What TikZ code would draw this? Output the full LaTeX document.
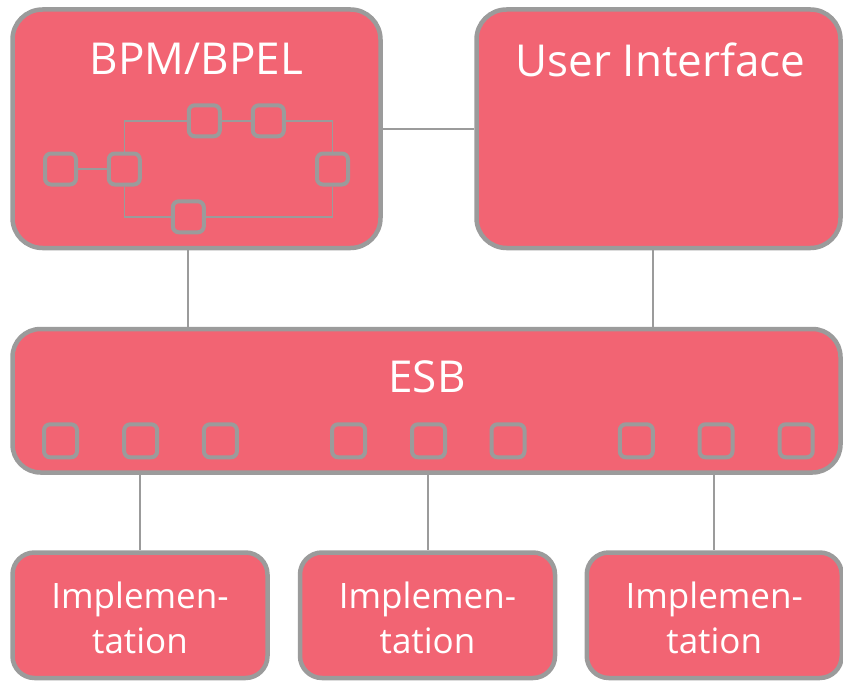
\documentclass[tikz,border=0pt]{standalone}
\usepackage{fontspec}
\setmainfont{Open Sans}
\definecolor{boxfill}{RGB}{242,100,115}
\definecolor{boxline}{RGB}{155,155,155}
\tikzset{
  bigbox/.style={draw=boxline, fill=boxfill, line width=4.5pt, rounded corners=30pt, inner sep=0pt},
  midbox/.style={draw=boxline, fill=boxfill, line width=4.5pt, rounded corners=22pt, inner sep=0pt, minimum width=255pt, minimum height=125.5pt},
  sq/.style={draw=boxline, fill=boxfill, line width=4pt, rounded corners=6pt, inner sep=0pt, minimum size=31pt},
  esq/.style={sq, minimum size=33pt},
  link/.style={draw=boxline, line width=2pt},
  flow/.style={draw=boxline, line width=1.6pt},
  title/.style={text=white, font=\fontsize{44}{50}\selectfont, anchor=base, inner sep=0pt},
  impl/.style={text=white, font=\fontsize{35}{45}\selectfont, anchor=base, inner sep=0pt},
}
\begin{document}
\begin{tikzpicture}[x=1pt,y=-1pt]
\useasboundingbox (0,0) rectangle (843,682);
% main boxes
\node[bigbox, minimum width=368pt, minimum height=238.5pt] (bpm) at (196.5,128.75) {};
\node[bigbox, minimum width=364pt, minimum height=238.5pt] (ui) at (658.5,128.75) {};
\node[bigbox, rounded corners=28pt, minimum width=828pt, minimum height=143.5pt] (esb) at (426.5,400.75) {};
\node[midbox] (im1) at (140,615.25) {};
\node[midbox] (im2) at (427.5,615.25) {};
\node[midbox] (im3) at (714.25,615.25) {};
% titles
\node[title] (bpmt) at (196.5,75) {BPM/BPEL};
\node[title] (uit) at (660.5,77) {User Interface};
\node[title] (esbt) at (427,392.7) {ESB};
\foreach \i/\x in {1/140,2/427.5,3/714.25}{
  \node[impl] (im\i a) at (\x,608.3) {Implemen-};
  \node[impl] (im\i b) at (\x,653.3) {tation};
}
% connectors between boxes
\draw[link] (bpm) -- (ui);
\draw[link] ([xshift=-8.2pt]bpm.south) -- ([xshift=-8.2pt]bpm.south |- esb.north);
\draw[link] ([xshift=-5.8pt]ui.south) -- ([xshift=-5.8pt]ui.south |- esb.north);
\draw[link] (esb.south -| im1.north) -- (im1.north);
\draw[link] (esb.south -| im2.north) -- (im2.north);
\draw[link] (esb.south -| im3.north) -- (im3.north);
% process diagram inside BPM
\node[sq] (pa) at (60.5,169) {};
\node[sq] (pb) at (124.3,169) {};
\node[sq] (pc) at (204.3,120.8) {};
\node[sq] (pd) at (268.3,120.8) {};
\node[sq] (pe) at (332.5,169) {};
\node[sq] (pf) at (188.3,216.8) {};
\draw[flow] (pa) -- (pb);
\draw[flow] (pb.north) |- (pc.west);
\draw[flow] (pc) -- (pd);
\draw[flow] (pd.east) -| (pe.north);
\draw[flow] (pe.south) |- (pf.east);
\draw[flow] (pf.west) -| (pb.south);
% ESB ports
\foreach \n/\x in {1/60.5,2/140.7,3/220.4,4/348.6,5/428.5,6/508,7/636.3,8/716,9/796.2}{
  \node[esq] (port\n) at (\x,440.8) {};
}
\end{tikzpicture}
\end{document}
